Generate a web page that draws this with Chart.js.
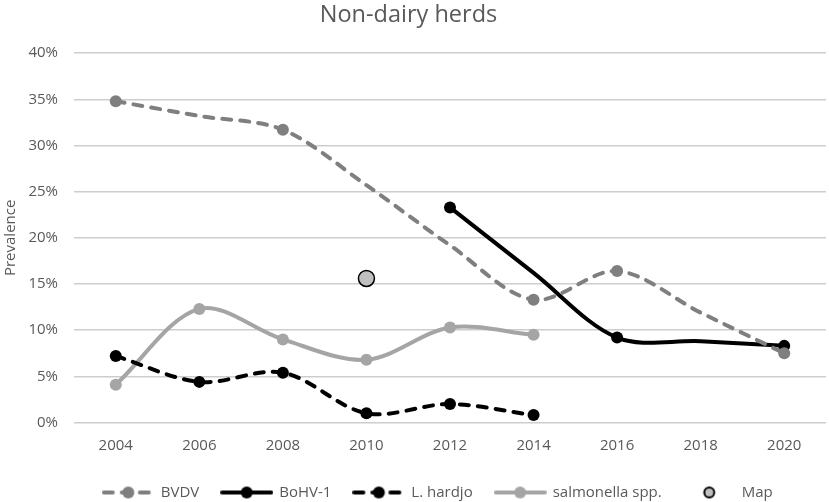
<!DOCTYPE html>
<html><head><meta charset="utf-8">
<style>html,body{margin:0;padding:0;background:#fff}#w{width:829px;height:502px;position:relative}</style>
<script src="https://cdn.jsdelivr.net/npm/chart.js@4"></script>
</head><body><div id="w"><canvas id="c" width="829" height="502"></canvas></div>
<script>
const categories = ['2004','2006','2008','2010','2012','2014','2016','2018','2020'];
// Line heights, including years where the line runs on without a marker.
const bvdv = [34.8,33.2,31.7,25.7,19.2,13.3,16.4,11.9,7.5];
const bohv = [null,null,null,null,23.3,16.2,9.2,8.8,8.3];
const hardjo = [7.2,4.4,5.4,1.0,2.0,0.8,null,null,null];
const salmonella = [4.1,12.3,9.0,6.8,10.3,9.5,null,null,null];
const mapPoint = [null,null,null,15.6,null,null,null,null,null];
const bvdvNoMarker = ['2006','2010','2012','2018'];
const bohvNoMarker = ['2014','2018'];
const yTicks = [0,5,10,15,20,25,30,35,40];
const FONT = '"Open Sans"';
const TXT = '#595959';

function sample(color, dash, lw, r, line, border) {
  const c = document.createElement('canvas');
  c.width = 53; c.height = 16;
  const x = c.getContext('2d');
  if (line) {
    x.strokeStyle = color; x.lineWidth = lw; x.lineCap = 'round';
    x.setLineDash(dash); x.beginPath(); x.moveTo(2,8); x.lineTo(51,8); x.stroke(); x.setLineDash([]);
  }
  x.fillStyle = color; x.beginPath(); x.arc(26.5,8,r,0,Math.PI*2); x.fill();
  if (border) { x.strokeStyle = border; x.lineWidth = 2; x.stroke(); }
  return c;
}
const series = [
  {label:'BVDV',data:bvdv,color:'#7f7f7f',dash:[9,9],w:4,r:6,skip:bvdvNoMarker},
  {label:'BoHV-1',data:bohv,color:'#000000',dash:[],w:4,r:6,skip:bohvNoMarker},
  {label:'L. hardjo',data:hardjo,color:'#000000',dash:[9,9],w:4,r:6,skip:[]},
  {label:'salmonella spp.',data:salmonella,color:'#a5a5a5',dash:[],w:4,r:6,skip:[]}
];
const datasets = series.map(s=>({
  label:s.label,data:s.data,borderColor:s.color,backgroundColor:s.color,
  borderWidth:s.w,borderDash:s.dash,borderCapStyle:'round',tension:0.33,
  pointRadius:ctx=>s.skip.includes(categories[ctx.dataIndex])?0:s.r,
  pointHoverRadius:s.r,pointBackgroundColor:s.color,pointBorderColor:s.color,pointBorderWidth:0,
  legendImg:sample(s.color,s.dash.length?[9,9]:[],s.w,s.r,true)
}));
datasets.push({label:'Map',data:mapPoint,showLine:false,borderColor:'#000',backgroundColor:'#c0c0c0',
  pointRadius:8,pointHoverRadius:8,pointBackgroundColor:'#c0c0c0',pointBorderColor:'#000',pointBorderWidth:1.5,
  legendImg:sample('#c0c0c0',[],0,5,false,'#000')});

const nudge = {
  id:'nudge',
  afterLayout(ch){
    ch.titleBlock.right -= 9;
    ch.legend.left += 25; ch.legend.right += 25;
    ch.legend.top += 8; ch.legend.bottom += 8;
    const x = ch.scales.x, RIGHT = 826;
    x.left = 74; x.right = RIGHT; x.width = RIGHT - 74; x.configure();
    ch.chartArea.left = 74; ch.chartArea.right = RIGHT; ch.chartArea.width = RIGHT - 74;
  }
};

new Chart(document.getElementById('c'),{
  type:'line',
  data:{labels:categories,datasets},
  plugins:[nudge],
  options:{
    responsive:false,animation:false,
    layout:{padding:{left:0,right:3,top:0,bottom:0}},
    plugins:{
      tooltip:{enabled:false},
      title:{display:true,text:'Non-dairy herds',color:TXT,font:{family:FONT,size:23.5,weight:'normal'},padding:{top:1,bottom:24}},
      legend:{position:'bottom',
        labels:{usePointStyle:true,pointStyleWidth:50,boxHeight:16,color:TXT,font:{family:FONT,size:15},padding:22.5,
          generateLabels:ch=>ch.data.datasets.map((d,i)=>({text:d.label,fontColor:TXT,datasetIndex:i,pointStyle:d.legendImg,lineWidth:0,strokeStyle:'transparent',fillStyle:'transparent'}))}
      }
    },
    scales:{
      x:{offset:true,grid:{display:false},border:{display:false},
        afterFit:a=>{a.height=32},
        ticks:{color:TXT,font:{family:FONT,size:15},padding:6,maxRotation:0}},
      y:{min:0,max:40,afterBuildTicks:a=>{a.ticks=yTicks.map(v=>({value:v}))},
        afterFit:a=>{a.width=74},
        grid:{color:'#cdcdcd',lineWidth:1.5,drawTicks:false},border:{display:false},
        title:{display:true,text:'Prevalence',color:TXT,font:{family:FONT,size:15},padding:{top:2,bottom:0}},
        ticks:{color:TXT,font:{family:FONT,size:15},padding:16,callback:v=>v+'%'}}
    }
  }
});
</script></body></html>
